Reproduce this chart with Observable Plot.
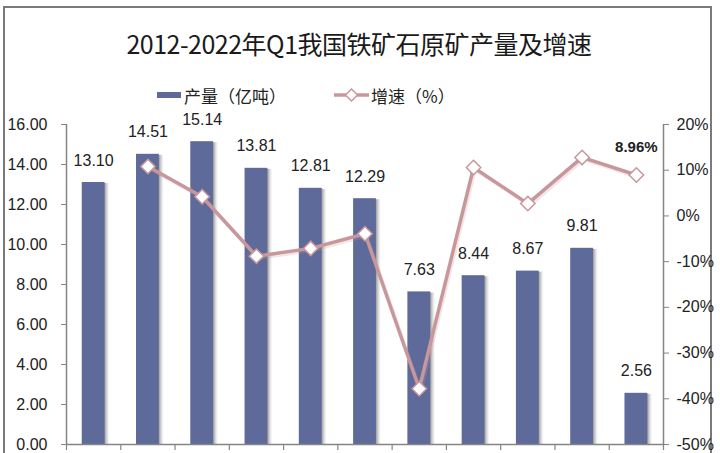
<!DOCTYPE html>
<html>
<head>
<meta charset="utf-8">
<script src="https://cdn.jsdelivr.net/npm/d3@7"></script>
<script src="https://cdn.jsdelivr.net/npm/@observablehq/plot@0.6"></script>
<style>
  html, body { margin: 0; padding: 0; background: #fff; overflow: hidden; }
  #wrap { position: relative; width: 720px; height: 453px; overflow: hidden; background: #fff; }
  #border { position: absolute; left: 3px; top: 6px; width: 709px; height: 480px; border: 2px solid #7a7a7a; box-sizing: border-box; }
  #title { position: absolute; left: 0; top: 25px; width: 718px; text-align: center;
    font-family: "Noto Sans CJK SC", sans-serif; font-size: 25px; color: #1a1a1a; letter-spacing: -0.5px; }
  #legend { position: absolute; left: 0; top: 82px; width: 720px; height: 26px;
    font-family: "Noto Sans CJK SC", sans-serif; font-size: 17px; color: #222; }
  .lg { position: absolute; top: 0; display: flex; align-items: center; height: 26px; }
  #chart { position: absolute; left: 0; top: 110px; }
</style>
</head>
<body>
<div id="wrap">
  <div id="border"></div>
  <div id="title">2012-2022年Q1我国铁矿石原矿产量及增速</div>
  <div id="legend">
    <div class="lg" style="left:157px"><svg width="25" height="10"><rect x="0" y="2" width="24" height="6" fill="#5E6A9A"></rect></svg><span style="margin-left:2px">产量（亿吨）</span></div>
    <div class="lg" style="left:334px"><svg width="36" height="16"><line x1="0" y1="8" x2="35" y2="8" stroke="#C7979B" stroke-width="3.5"></line><path d="M17.5,2 L23.5,8 L17.5,14 L11.5,8 Z" fill="#fff" stroke="#C7979B" stroke-width="1.5"></path></svg><span style="margin-left:1px">增速（%）</span></div>
  </div>
  <div id="chart"></div>
</div>
<script>
const years = [2012, 2013, 2014, 2015, 2016, 2017, 2018, 2019, 2020, 2021, 2022];
const output = [13.10, 14.51, 15.14, 13.81, 12.81, 12.29, 7.63, 8.44, 8.67, 9.81, 2.56];
const growthYears = [2013, 2014, 2015, 2016, 2017, 2018, 2019, 2020, 2021, 2022];
const growth = [10.8, 4.2, -8.8, -7.1, -3.9, -37.8, 10.6, 2.7, 12.8, 8.96];
const leftTicks = [0, 2, 4, 6, 8, 10, 12, 14, 16];
const rightTicks = [-50, -40, -30, -20, -10, 0, 10, 20];

const bars = years.map((y, i) => ({year: y, value: output[i]}));
const line = growthYears.map((y, i) => ({year: y, pct: growth[i]}));
const toLeft = p => (p + 50) * 16 / 70;
const fromLeft = v => v * 70 / 16 - 50;
const boundaries = years.map(y => y - 0.5).concat([years[years.length - 1] + 0.5]);
const half = 0.21;
const barColor = "#5E6A9A";
const lineColor = "#C7979B";
const axisColor = "#858585";

const defs = () => {
  const s = d3.create("svg:defs");
  const g = s.append("linearGradient").attr("id", "shadowGrad").attr("x1", 0).attr("x2", 1).attr("y1", 0).attr("y2", 0);
  g.append("stop").attr("offset", "0.78").attr("stop-color", "#777").attr("stop-opacity", 0.75);
  g.append("stop").attr("offset", "1").attr("stop-color", "#bbb").attr("stop-opacity", 0);
  return s.node();
};

const plot = Plot.plot({
  width: 720,
  height: 343,
  marginTop: 14,
  marginBottom: 9,
  marginLeft: 66,
  marginRight: 57,
  style: {fontFamily: "'Liberation Sans', Arial, sans-serif", fontSize: "16px", color: "#222", background: "transparent"},
  x: {domain: [years[0] - 0.5, years[years.length - 1] + 0.5], axis: null},
  y: {domain: [0, 16], axis: null},
  marks: [
    defs,
    // bar shadows
    Plot.rectY(bars, {x1: d => d.year - half, x2: d => d.year + half, y1: 0, y2: "value", fill: "url(#shadowGrad)", dx: 5, dy: 1}),
    Plot.rectY(bars, {x1: d => d.year - half, x2: d => d.year + half, y1: 0, y2: "value", fill: barColor}),
    // axes lines
    Plot.ruleY([0], {stroke: axisColor, strokeWidth: 1.5}),
    Plot.ruleX([boundaries[0], boundaries[boundaries.length - 1]], {stroke: axisColor, strokeWidth: 1.5}),
    Plot.ruleX(boundaries, {y1: 0, y2: -0.3, stroke: axisColor, strokeWidth: 1.2, clip: false}),
    Plot.axisY(leftTicks, {anchor: "left", label: null, tickSize: 5, tickPadding: 14, tickFormat: d => d.toFixed(2), stroke: axisColor, fill: "#222", fontSize: 16}),
    Plot.axisY(rightTicks.map(toLeft), {anchor: "right", label: null, tickSize: 5, tickPadding: 8, tickFormat: v => Math.round(fromLeft(v)) + "%", stroke: axisColor, fill: "#222", fontSize: 16}),
    // growth line
    Plot.line(line, {x: "year", y: d => toLeft(d.pct), stroke: lineColor, strokeWidth: 3.5, dy: 2, dx: 1.5, strokeOpacity: 0.25}),
    Plot.line(line, {x: "year", y: d => toLeft(d.pct), stroke: lineColor, strokeWidth: 3.5}),
    Plot.dot(line, {x: "year", y: d => toLeft(d.pct), symbol: "diamond2", r: 6.5, fill: "#fff", stroke: lineColor, strokeWidth: 1.5}),
    // labels
    Plot.text(bars, {x: "year", y: "value", text: d => d.value.toFixed(2), dy: -22, fill: "#222", fontSize: 16}),
    Plot.text(line.slice(-1), {x: "year", y: d => toLeft(d.pct), text: d => d.pct.toFixed(2) + "%", dy: -28, fill: "#222", fontSize: 15, fontWeight: "bold"})
  ]
});
document.getElementById("chart").appendChild(plot);
</script>
</body>
</html>
